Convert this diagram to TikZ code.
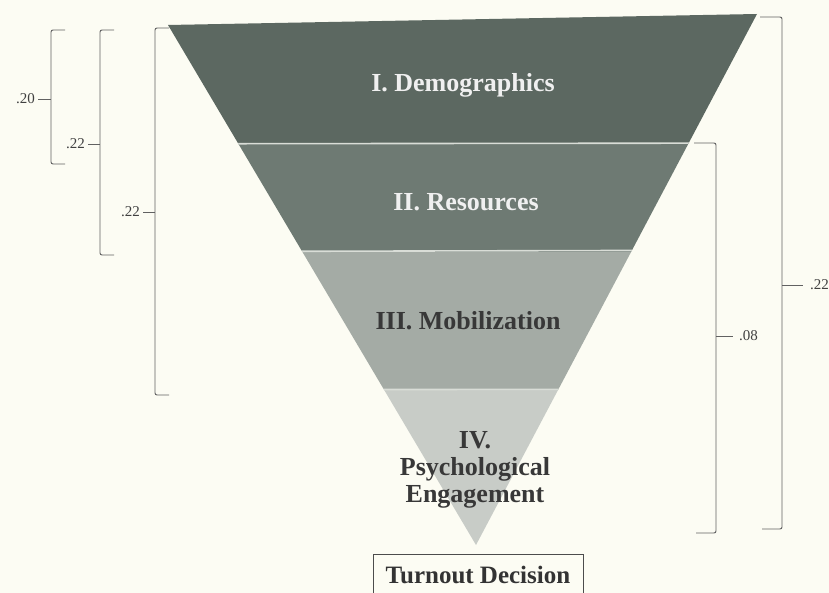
\documentclass[tikz,border=0pt]{standalone}
\usepackage{fontspec}
\setmainfont{Liberation Serif}
\begin{document}
\begin{tikzpicture}[x=1pt,y=-1pt,
  bandtext/.style={font=\bfseries\fontsize{26}{27}\selectfont, align=center, inner sep=0pt},
  coef/.style={font=\fontsize{15}{15}\selectfont, text=black!75, inner sep=0pt},
  brace/.style={draw=black!62, line width=0.95pt, rounded corners=2pt},
  tick/.style={draw=black!62, line width=0.95pt}]
\definecolor{paper}{HTML}{FCFCF3}
\definecolor{bandA}{HTML}{5C6861}
\definecolor{bandB}{HTML}{6E7A73}
\definecolor{bandC}{HTML}{A4ABA5}
\definecolor{bandD}{HTML}{C8CCC7}
\definecolor{seam}{HTML}{D9DDD7}

\useasboundingbox (0,0) rectangle (829,593);
\fill[paper] (0,0) rectangle (829,593);

% funnel corners
\coordinate (TL) at (168,25);
\coordinate (TR) at (757,14);
\coordinate (AP) at (476,545);

% the four bands, cut out of one triangle
\begin{scope}
  \clip (TL) -- (TR) -- (AP) -- cycle;
  \fill[bandA] (0,0) rectangle (829,144);
  \fill[bandB] (0,144) rectangle (829,252);
  \fill[bandC] (0,252) rectangle (829,390);
  \fill[bandD] (0,390) rectangle (829,593);
  \draw[seam, line width=1.6pt] (0,144) -- (829,143);
  \draw[seam, line width=1.6pt] (0,252) -- (829,250);
  \draw[seam, line width=1.6pt] (0,390) -- (829,389);
\end{scope}

% band labels
\node[bandtext, text=white!94!black] (demo) at (463,85) {I. Demographics};
\node[bandtext, text=white!94!black] (res) at (466,202) {II. Resources};
\node[bandtext, text=black!78] (mob) at (468,321) {III. Mobilization};
\node[bandtext, text=black!78] (psy) at (475,470) {IV.\\Psychological\\Engagement};

% outcome box
\node[draw=black!70, line width=1pt, fill=paper, minimum width=210pt, minimum height=40pt,
      inner sep=0pt, font=\bfseries\fontsize{25}{25}\selectfont, text=black!80, anchor=north]
      (turn) at (478,554) {\raisebox{-4pt}{Turnout Decision}};

% left brackets
\coordinate (b1t) at (51,30);  \coordinate (b1b) at (51,164);
\coordinate (b2t) at (100,30); \coordinate (b2b) at (100,255);
\coordinate (b3t) at (155,28); \coordinate (b3b) at (155,395);
\draw[brace] ([xshift=14pt]b1t) -- (b1t) -- (b1b) -- ([xshift=14pt]b1b);
\draw[brace] ([xshift=14pt]b2t) -- (b2t) -- (b2b) -- ([xshift=14pt]b2b);
\draw[brace] ([xshift=14pt]b3t) -- (b3t) -- (b3b) -- ([xshift=14pt]b3b);
\coordinate (b1m) at (51,99);
\coordinate (b2m) at (100,144);
\coordinate (b3m) at (155,212);
\node[coef, anchor=east] (c1) at (35,99) {.20};
\node[coef, anchor=east] (c2) at (85,144) {.22};
\node[coef, anchor=east] (c3) at (140,212) {.22};
\draw[tick] ([xshift=3pt]c1.east) -- (b1m);
\draw[tick] ([xshift=3pt]c2.east) -- (b2m);
\draw[tick] ([xshift=3pt]c3.east) -- (b3m);

% right brackets
\coordinate (r1t) at (716,143); \coordinate (r1b) at (716,533);
\coordinate (r2t) at (782,17);  \coordinate (r2b) at (782,529);
\draw[brace] ([xshift=-22pt]r1t) -- (r1t) -- (r1b) -- ([xshift=-20pt]r1b);
\draw[brace] ([xshift=-22pt]r2t) -- (r2t) -- (r2b) -- ([xshift=-20pt]r2b);
\coordinate (r1m) at (716,336);
\coordinate (r2m) at (782,285);
\node[coef, anchor=west] (c4) at (739,336) {.08};
\node[coef, anchor=west] (c5) at (810,285) {.22};
\draw[tick] (r1m) -- ([xshift=-6pt]c4.west);
\draw[tick] (r2m) -- ([xshift=-7pt]c5.west);
\end{tikzpicture}
\end{document}
